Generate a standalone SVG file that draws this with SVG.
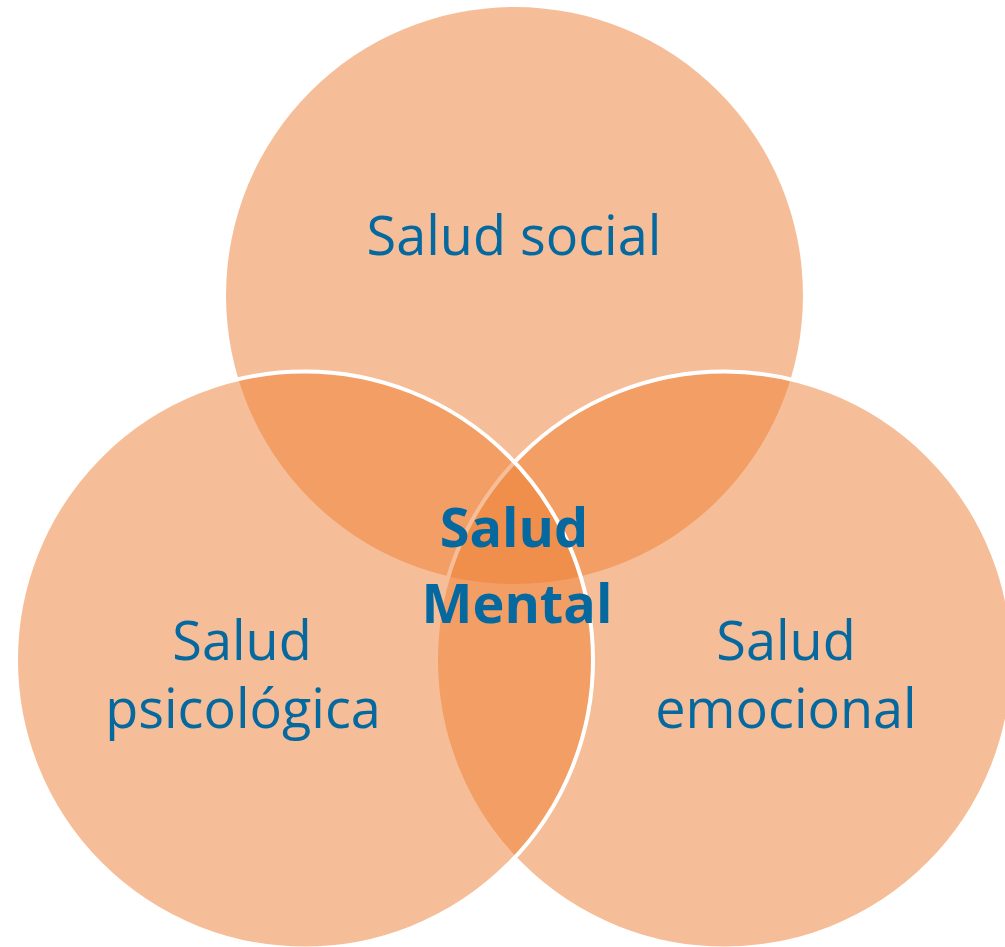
<svg xmlns="http://www.w3.org/2000/svg" width="1005" height="947" viewBox="0 0 1005 947">
  <style>
    .c { fill: #ED7D31; fill-opacity: 0.5; }
    .s { stroke: #FFFFFF; stroke-width: 4; }
    .t { font-family: "Open Sans", "Liberation Sans", sans-serif; font-size: 54px; fill: #0569A0; text-anchor: middle; }
    .b { font-weight: bold; }
  </style>
  <rect width="1005" height="947" fill="#FFFFFF"/>
  <g id="social">
    <circle class="c" cx="514.5" cy="295.5" r="288.5"/>
  </g>
  <g id="emocional">
    <circle class="c s" cx="724.5" cy="660" r="288.5"/>
  </g>
  <g id="psicologica">
    <circle class="c s" cx="304.5" cy="660" r="288.5"/>
  </g>
  <g id="connectors"></g>
  <g id="labels">
    <text class="t" x="514" y="255">Salud social</text>
    <text class="t" x="242" y="660">Salud</text>
    <text class="t" x="243" y="728">psicológica</text>
    <text class="t" x="786" y="660">Salud</text>
    <text class="t" x="786" y="728">emocional</text>
  </g>
  <g id="mental">
    <text class="t b" x="514" y="547">Salud</text>
    <text class="t b" x="517" y="623">Mental</text>
  </g>
</svg>
